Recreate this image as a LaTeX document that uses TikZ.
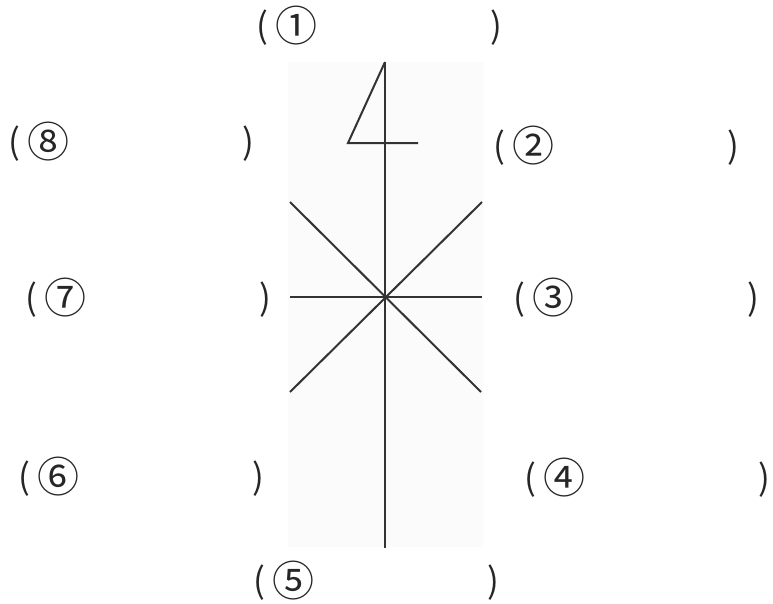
\documentclass[tikz,border=0pt]{standalone}
\usepackage{fontspec}
\setmainfont{Noto Sans CJK JP}
\usetikzlibrary{positioning}
\newcommand{\fillblank}[1]{\makebox[246pt][l]{(\hspace{0.2em}\raisebox{-0.08em}{\fontsize{42}{44}\selectfont #1}\hfill)}}

\begin{document}
\begin{tikzpicture}[x=1pt, y=-1pt,
  lbl/.style={anchor=west, inner sep=0pt, text=black!85, font=\fontsize{35}{38}\selectfont},
  stroke/.style={line width=2pt, draw=black!80}]
\useasboundingbox (0,0) rectangle (773,603);
\fill[black!1.5] (288,62) rectangle (483,547);
% mast and flag
\draw[stroke] (385,62) -- (385,548);
\draw[stroke] (385,62) -- (348,143) -- (418,143);
% star
\draw[stroke] (290,297) -- (482,297);
\draw[stroke] (290,202) -- (481,392);
\draw[stroke] (482,202) -- (290,392);
% blanks
\node[lbl] (b1) at (256,26) {\fillblank{①}};
\node[lbl] (b2) at (493,146) {\fillblank{②}};
\node[lbl] (b3) at (513,298) {\fillblank{③}};
\node[lbl] (b4) at (524,478) {\fillblank{④}};
\node[lbl] (b5) at (253,581) {\fillblank{⑤}};
\node[lbl] (b6) at (18,477) {\fillblank{⑥}};
\node[lbl] (b7) at (25,298) {\fillblank{⑦}};
\node[lbl] (b8) at (8,142) {\fillblank{⑧}};
\end{tikzpicture}
\end{document}
